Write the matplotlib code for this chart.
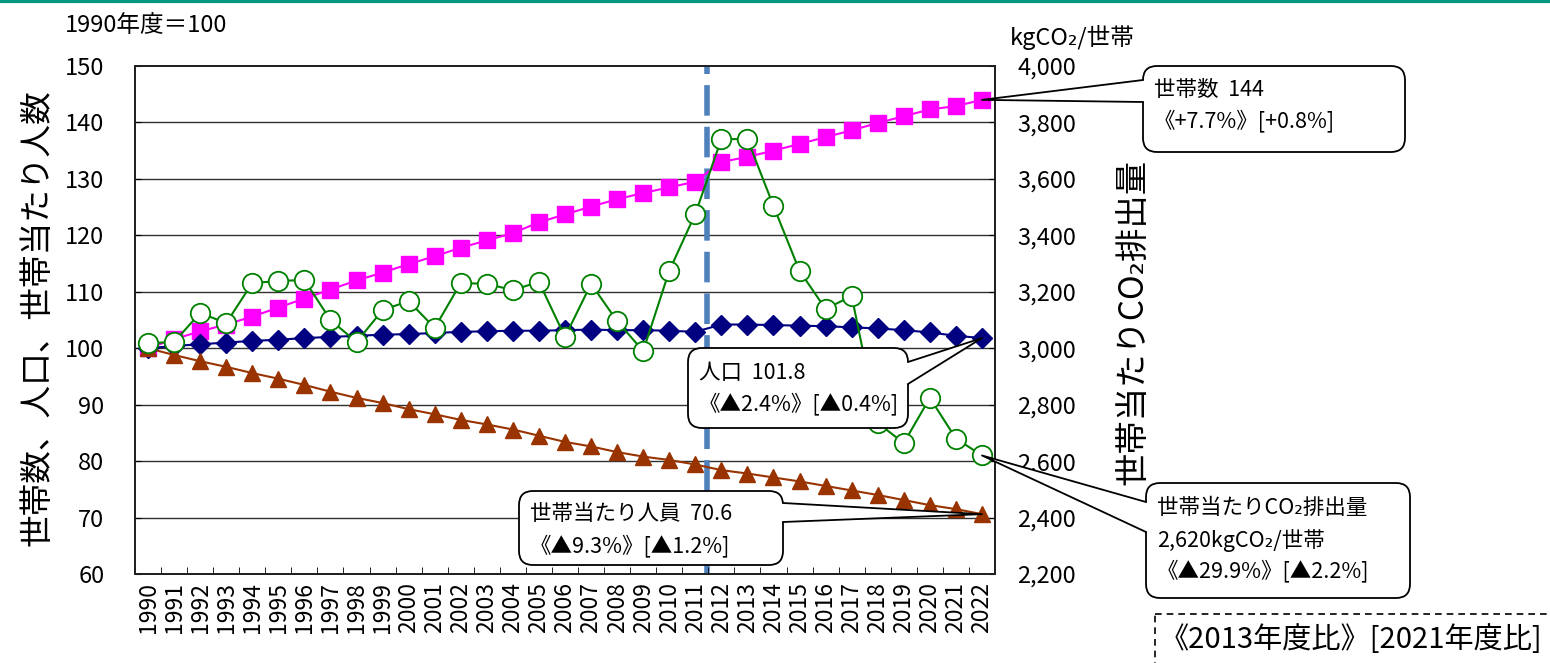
import matplotlib
matplotlib.use('Agg')
import matplotlib.pyplot as plt
from matplotlib.patches import FancyBboxPatch, Polygon, Rectangle
from matplotlib.ticker import FuncFormatter, FixedLocator

plt.rcParams['font.family'] = ['Noto Sans CJK JP', 'DejaVu Sans']

# data (1990 = 100, CO2 in kgCO2/household)
years = [str(y) for y in range(1990, 2023)]
households = [100.0, 101.6, 103.0, 104.2, 105.6, 107.2, 108.8, 110.4, 112.0, 113.4,
              114.9, 116.3, 117.8, 119.1, 120.4, 122.3, 123.7, 125.1, 126.4, 127.5,
              128.5, 129.5, 133.0, 133.9, 135.0, 136.2, 137.4, 138.6, 139.9, 141.1,
              142.3, 142.9, 144.0]
population = [100.0, 100.4, 100.7, 101.0, 101.3, 101.5, 101.8, 102.0, 102.2, 102.4,
              102.5, 102.7, 102.9, 103.0, 103.1, 103.1, 103.2, 103.3, 103.2, 103.2,
              103.1, 102.9, 104.2, 104.2, 104.1, 104.0, 103.9, 103.7, 103.5, 103.2,
              102.8, 102.2, 101.8]
persons_per_hh = [100.0, 98.8, 97.7, 96.7, 95.6, 94.6, 93.5, 92.3, 91.2, 90.3,
                  89.2, 88.3, 87.3, 86.5, 85.6, 84.5, 83.4, 82.6, 81.6, 80.8,
                  80.2, 79.4, 78.4, 77.8, 77.1, 76.4, 75.6, 74.8, 74.0, 73.1,
                  72.2, 71.5, 70.6]
co2_per_hh = [3018, 3022, 3125, 3089, 3231, 3238, 3242, 3100, 3022, 3135,
              3167, 3072, 3231, 3228, 3206, 3235, 3040, 3228, 3096, 2990,
              3274, 3476, 3741, 3741, 3504, 3274, 3139, 3185, 2735, 2664,
              2824, 2680, 2620]

left_ticks = list(range(60, 151, 10))
right_ticks = list(range(2200, 4001, 200))

W, H = 1550, 663
fig = plt.figure(figsize=(W / 100, H / 100), dpi=100)
ax = fig.add_axes([135 / W, 89 / H, 860 / W, 508 / H])
ax2 = ax.twinx()

x = list(range(len(years)))

ax.set_xlim(-0.5, len(years) - 0.5)
ax.set_ylim(60, 150)
ax2.set_ylim(2200, 4000)

for v in left_ticks[1:-1]:
    ax.axhline(v, color='#303030', lw=1.0, zorder=0)

# statistical break between FY2011 and FY2012
ax.axvline(21.45, color='#4F81BD', lw=4, dashes=(5.5, 2), zorder=1)

ax.plot(x, households, color='#FF00FF', lw=1.5, marker='s', ms=12,
        mfc='#FF00FF', mec='#FF00FF', zorder=3)
ax.plot(x, population, color='#000080', lw=1.5, marker='D', ms=10,
        mfc='#000080', mec='#000080', zorder=3)
ax.plot(x, persons_per_hh, color='#993300', lw=1.5, marker='^', ms=12,
        mfc='#993300', mec='#993300', zorder=3)
ax2.plot(x, co2_per_hh, color='#008000', lw=1.5, marker='o', ms=14,
         mfc='white', mec='#008000', mew=1.3, zorder=4)

ax.set_yticks(left_ticks)
ax.yaxis.set_major_formatter(FuncFormatter(lambda v, p: f'{int(v)}'))
ax.tick_params(axis='y', direction='in', length=4, labelsize=17, pad=22)
ax2.set_yticks(right_ticks)
ax2.yaxis.set_major_formatter(FuncFormatter(lambda v, p: f'{int(v):,}'))
ax2.tick_params(axis='y', direction='in', length=4, labelsize=17, pad=16)

ax.set_xticks(x)
ax.set_xticklabels(years, rotation=90, fontsize=16.5)
ax.xaxis.set_minor_locator(FixedLocator([i + 0.5 for i in x[:-1]]))
ax.tick_params(axis='x', which='major', length=0, pad=6)
ax.tick_params(axis='x', which='minor', direction='in', length=5)

for a in (ax, ax2):
    for s in a.spines.values():
        s.set_color('#202020')
        s.set_linewidth(1.3)

# overlay in pixel coordinates for text boxes and callouts
ov = fig.add_axes([0, 0, 1, 1], zorder=10)
ov.set_xlim(0, W)
ov.set_ylim(H, 0)
ov.axis('off')
ov.patch.set_alpha(0)

ov.plot([0, W], [1, 1], color='#00967F', lw=3, solid_capstyle='butt')

ov.text(65, 25, '1990年度＝100', fontsize=17, va='center', ha='left')
ov.text(1010, 38, 'kgCO₂/世帯', fontsize=17, va='center', ha='left')
ov.text(38, 318, '世帯数、人口、世帯当たり人数', fontsize=23.5, rotation=90,
        va='center', ha='center')
ov.text(1133, 322, '世帯当たりCO₂排出量', fontsize=24, rotation=90,
        va='center', ha='center')


def to_px(a, xi, yv):
    dx, dy = a.transData.transform((xi, yv))
    return dx, H - dy


def callout(x0, y0, x1, y1, b0, b1, tip, lines, side):
    box = FancyBboxPatch((x0, y0), x1 - x0, y1 - y0,
                         boxstyle='round,pad=0,rounding_size=14',
                         fc='white', ec='black', lw=1.3, zorder=20)
    ov.add_patch(box)
    if side == 'left':
        bx, inset = x0, 3
    else:
        bx, inset = x1, -3
    poly = Polygon([(bx + inset, b0), (bx - inset * 0.2, b0), tip,
                    (bx - inset * 0.2, b1), (bx + inset, b1)],
                   closed=True, fc='white', ec='none', zorder=21)
    ov.add_patch(poly)
    ov.plot([bx, tip[0], bx], [b0, tip[1], b1], color='black', lw=1.3, zorder=22)
    for txt, ty in lines:
        ov.text(x0 + 11, ty, txt, fontsize=15.5, va='center', ha='left', zorder=23)


callout(1143, 66, 1405, 152, 80, 102, to_px(ax, 32, households[-1]),
        [('世帯数  144', 90), ('《+7.7%》[+0.8%]', 121)], 'left')
callout(688, 348, 908, 428, 362, 384, to_px(ax, 32, population[-1]),
        [('人口  101.8', 373), ('《▲2.4%》[▲0.4%]', 404)], 'right')
callout(519, 491, 783, 565, 503, 522, to_px(ax, 32, persons_per_hh[-1]),
        [('世帯当たり人員  70.6', 514), ('《▲9.3%》[▲1.2%]', 546)], 'right')
callout(1146, 483, 1410, 598, 502, 532, to_px(ax2, 32, co2_per_hh[-1]),
        [('世帯当たりCO₂排出量', 508), ('2,620kgCO₂/世帯', 540),
         ('《▲29.9%》[▲2.2%]', 571)], 'left')

ov.add_patch(Rectangle((1155, 614), 420, 80, fc='white', ec='black', lw=1.2,
                       ls=(0, (4, 3)), zorder=20))
ov.text(1160, 640, '《2013年度比》[2021年度比]', fontsize=21, va='center',
        ha='left', zorder=23)

fig.savefig('out.png', dpi=100)
